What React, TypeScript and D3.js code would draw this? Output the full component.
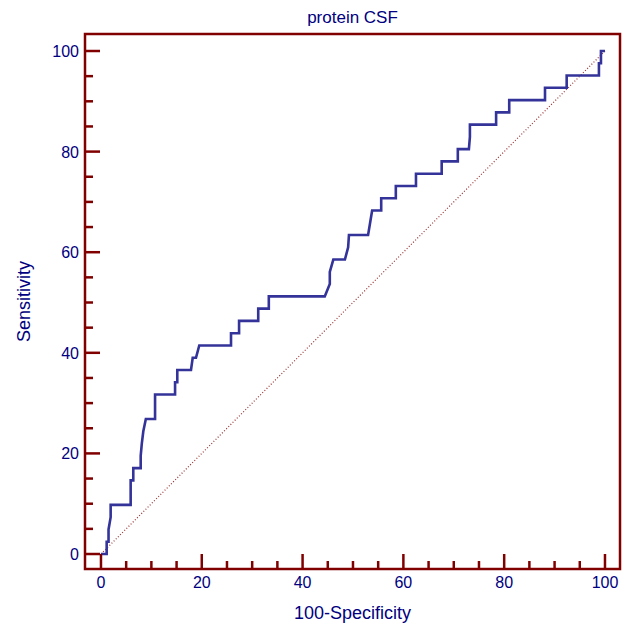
import React from 'react';
import * as d3 from 'd3';

// ROC curve vertices: 100-Specificity (x) and Sensitivity (y)
const fpr = [
  0, 1.13, 1.13, 1.5, 1.5, 1.92, 1.92, 5.89, 5.89, 6.41, 6.41, 7.88, 7.88, 8.1, 8.4, 8.9,
  10.73, 10.73, 14.7, 14.7, 15.14, 15.14, 17.86, 18.2, 18.85, 19.5, 25.8, 25.8, 27.4, 27.4,
  31.2, 31.2, 33.3, 33.3, 44.4, 45.4, 45.4, 46.1, 48.4, 49.04, 49.2, 53.0, 53.4, 53.8,
  55.6, 55.6, 58.5, 58.5, 62.5, 62.5, 67.6, 67.6, 70.8, 70.8, 73.0, 73.2, 73.2, 78.4, 78.4,
  81.0, 81.0, 88.1, 88.1, 92.4, 92.4, 98.8, 98.8, 99.2, 99.2, 100,
];
const tpr = [
  0, 0, 2.44, 2.44, 4.88, 7.32, 9.76, 9.76, 14.63, 14.63, 17.07, 17.07, 19.51, 21.95, 24.39, 26.83,
  26.83, 31.71, 31.71, 34.15, 34.15, 36.59, 36.59, 39.02, 39.02, 41.46, 41.46, 43.9, 43.9, 46.34,
  46.34, 48.78, 48.78, 51.22, 51.22, 53.66, 56.1, 58.54, 58.54, 60.98, 63.41, 63.41, 65.85, 68.29,
  68.29, 70.73, 70.73, 73.17, 73.17, 75.61, 75.61, 78.05, 78.05, 80.49, 80.49, 82.93, 85.37, 85.37, 87.8,
  87.8, 90.24, 90.24, 92.68, 92.68, 95.12, 95.12, 97.56, 97.56, 100, 100,
];
const majorTicks = [0, 20, 40, 60, 80, 100];
const minorTicks = d3.range(0, 101, 5).filter((v) => v % 20 !== 0);

const title = 'protein CSF';
const xTitle = '100-Specificity';
const yTitle = 'Sensitivity';

const W = 631;
const H = 627;
const navy = '#000080';
const maroon = '#800000';

export default function App() {
  const x = d3.scaleLinear().domain([-3.17, 102.98]).range([85, 620]);
  const y = d3.scaleLinear().domain([-2.98, 103.38]).range([569, 34]);
  const [x0, x1] = x.range();
  const [y0, y1] = y.range();

  const pts: [number, number][] = fpr.map((f, i) => [f, tpr[i]]);
  const line = d3
    .line<[number, number]>()
    .x((d) => x(d[0]))
    .y((d) => y(d[1]));

  return (
    <svg
      width={W}
      height={H}
      style={{ position: 'absolute', left: 0, top: 0, background: '#fff' }}
      fontFamily="Liberation Sans, Arial, sans-serif"
    >
      <text x={(x0 + x1) / 2} y={23} textAnchor="middle" fontSize={17} fill={navy}>
        {title}
      </text>

      {/* diagonal reference */}
      <line
        x1={x(0)}
        y1={y(0)}
        x2={x(100)}
        y2={y(100)}
        stroke="#993333"
        strokeWidth={1.2}
        strokeDasharray="1,2"
      />

      <path d={line(pts) || ''} fill="none" stroke="#333399" strokeWidth={2.6} strokeLinejoin="miter" />

      {/* ticks */}
      {majorTicks.map((t) => (
        <g key={'M' + t}>
          <line x1={x(t)} x2={x(t)} y1={y0} y2={y0 - 15} stroke={maroon} strokeWidth={2.5} />
          <line x1={x0} x2={x0 + 15} y1={y(t)} y2={y(t)} stroke={maroon} strokeWidth={2.5} />
          <text x={x(t)} y={588} textAnchor="middle" fontSize={16} fill={navy}>
            {t}
          </text>
          <text x={x0 - 6} y={y(t) + 6} textAnchor="end" fontSize={16} fill={navy}>
            {t}
          </text>
        </g>
      ))}
      {minorTicks.map((t) => (
        <g key={'m' + t}>
          <line x1={x(t)} x2={x(t)} y1={y0} y2={y0 - 8} stroke={maroon} strokeWidth={2.5} />
          <line x1={x0} x2={x0 + 8} y1={y(t)} y2={y(t)} stroke={maroon} strokeWidth={2.5} />
        </g>
      ))}

      <rect x={x0} y={y1} width={x1 - x0} height={y0 - y1} fill="none" stroke={maroon} strokeWidth={2.5} />

      <text x={(x0 + x1) / 2} y={619} textAnchor="middle" fontSize={18} fill={navy}>
        {xTitle}
      </text>
      <text
        transform={`translate(30,${(y0 + y1) / 2}) rotate(-90)`}
        textAnchor="middle"
        fontSize={18}
        fill={navy}
      >
        {yTitle}
      </text>
    </svg>
  );
}
